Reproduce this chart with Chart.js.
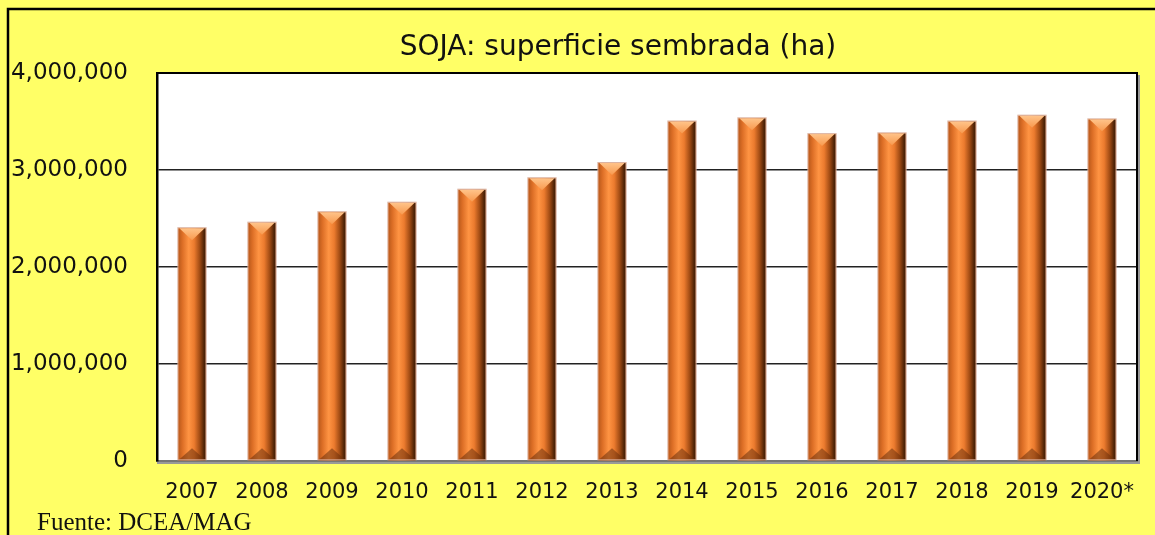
<!DOCTYPE html>
<html>
<head>
<meta charset="utf-8">
<script src="https://cdn.jsdelivr.net/npm/chart.js@4/dist/chart.umd.min.js"></script>
<style>
  html, body { margin: 0; padding: 0; background: #ffff66; }
  #wrap { width: 1155px; height: 535px; }
</style>
</head>
<body>
<div id="wrap"><canvas id="sojaChart" width="1155" height="535"></canvas></div>
<script>
// data
const years = ['2007', '2008', '2009', '2010', '2011', '2012', '2013',
               '2014', '2015', '2016', '2017', '2018', '2019', '2020*'];
const superficie = [2400000, 2457000, 2565000, 2663000, 2797000, 2915000, 3072000,
                    3500000, 3533000, 3370000, 3378000, 3500000, 3560000, 3522000];
const yTicks = [0, 1000000, 2000000, 3000000, 4000000];
const titleText = 'SOJA: superficie sembrada (ha)';
const sourceText = 'Fuente: DCEA/MAG';

// background, plot box, title and source line
const frame = {
  id: 'frame',
  beforeDraw(chart) {
    const ctx = chart.ctx, a = chart.chartArea;
    ctx.save();
    ctx.fillStyle = '#ffff66';
    ctx.fillRect(0, 0, chart.width, chart.height);
    // outer border (left + top)
    ctx.strokeStyle = '#000';
    ctx.lineWidth = 2.5;
    ctx.beginPath();
    ctx.moveTo(8, chart.height);
    ctx.lineTo(8, 9);
    ctx.lineTo(chart.width, 9);
    ctx.stroke();
    ctx.fillStyle = '#fff';
    ctx.fillRect(a.left, a.top, a.right - a.left, a.bottom - a.top);
    ctx.restore();
  },
  afterDraw(chart) {
    const ctx = chart.ctx, a = chart.chartArea;
    ctx.save();
    // right border shadow + border, top border
    ctx.strokeStyle = '#999';
    ctx.lineWidth = 2;
    ctx.beginPath();
    ctx.moveTo(a.right + 2, a.top + 2);
    ctx.lineTo(a.right + 2, a.bottom + 2);
    ctx.lineTo(a.left, a.bottom + 2);
    ctx.stroke();
    ctx.strokeStyle = '#000';
    ctx.beginPath();
    ctx.moveTo(a.left, a.top);
    ctx.lineTo(a.right, a.top);
    ctx.lineTo(a.right, a.bottom);
    ctx.stroke();
    // title
    ctx.fillStyle = '#111';
    ctx.font = '28px "DejaVu Sans"';
    ctx.textAlign = 'center';
    ctx.textBaseline = 'alphabetic';
    ctx.fillText(titleText, 618, 55);
    // source
    ctx.font = '25px "Liberation Serif"';
    ctx.textAlign = 'left';
    ctx.fillText(sourceText, 37, 530);
    ctx.restore();
  }
};

// shaded "bevel" look on every bar, drawn over the library's bar rects
const bevel = {
  id: 'bevel',
  afterDatasetsDraw(chart) {
    const ctx = chart.ctx;
    const meta = chart.getDatasetMeta(0);
    ctx.save();
    meta.data.forEach(bar => {
      const p = bar.getProps(['x', 'y', 'width', 'base'], true);
      const l = p.x - p.width / 2, r = p.x + p.width / 2;
      const top = p.y, bot = p.base, h = bot - top;
      const d = 12;

      const g = ctx.createLinearGradient(l, 0, r, 0);
      g.addColorStop(0, '#b9591b');
      g.addColorStop(0.15, '#dc6e26');
      g.addColorStop(0.38, '#ff9443');
      g.addColorStop(0.58, '#ec7b2e');
      g.addColorStop(0.78, '#a24c14');
      g.addColorStop(0.92, '#5a2909');
      g.addColorStop(1, '#3c1b05');
      ctx.fillStyle = g;
      ctx.fillRect(l, top, p.width, h);

      // top face
      const tg = ctx.createLinearGradient(0, top, 0, top + d);
      tg.addColorStop(0, '#ffc48a');
      tg.addColorStop(1, '#f8994e');
      ctx.fillStyle = tg;
      ctx.beginPath();
      ctx.moveTo(l + 1, top);
      ctx.lineTo(r - 1, top);
      ctx.lineTo(p.x, top + d);
      ctx.closePath();
      ctx.fill();

      // bottom face
      ctx.fillStyle = 'rgba(110, 50, 12, 0.55)';
      ctx.beginPath();
      ctx.moveTo(l, bot);
      ctx.lineTo(r, bot);
      ctx.lineTo(p.x, bot - d);
      ctx.closePath();
      ctx.fill();

      // pale outline
      ctx.strokeStyle = 'rgba(215, 170, 150, 0.9)';
      ctx.lineWidth = 1;
      ctx.strokeRect(l - 0.5, top - 0.5, p.width + 1, h);
    });
    ctx.restore();
  }
};

new Chart(document.getElementById('sojaChart'), {
  type: 'bar',
  data: {
    labels: years,
    datasets: [{
      label: 'Superficie sembrada (ha)',
      data: superficie,
      backgroundColor: '#e87a30',
      borderWidth: 0,
      categoryPercentage: 1,
      barPercentage: 0.39
    }]
  },
  options: {
    responsive: false,
    animation: false,
    layout: { padding: { left: 0, right: 18, top: 73, bottom: 0 } },
    plugins: {
      legend: { display: false },
      title: { display: false },
      tooltip: { enabled: false }
    },
    scales: {
      x: {
        grid: { display: false, drawTicks: false },
        border: { display: true, color: '#777', width: 2 },
        ticks: {
          color: '#111',
          font: { family: 'DejaVu Sans', size: 21 },
          padding: 19,
          maxRotation: 0,
          autoSkip: false
        },
        afterFit(scale) { scale.height = 74; }
      },
      y: {
        min: 0,
        max: 4000000,
        afterBuildTicks(scale) { scale.ticks = yTicks.map(v => ({ value: v })); },
        grid: { color: '#222', lineWidth: 1.5, drawTicks: false },
        border: { display: true, color: '#000', width: 2.5 },
        ticks: {
          color: '#111',
          font: { family: 'DejaVu Sans', size: 23 },
          padding: 29,
          callback: v => v.toLocaleString('en-US')
        },
        afterFit(scale) { scale.width = 157; }
      }
    }
  },
  plugins: [frame, bevel]
});
</script>
</body>
</html>
